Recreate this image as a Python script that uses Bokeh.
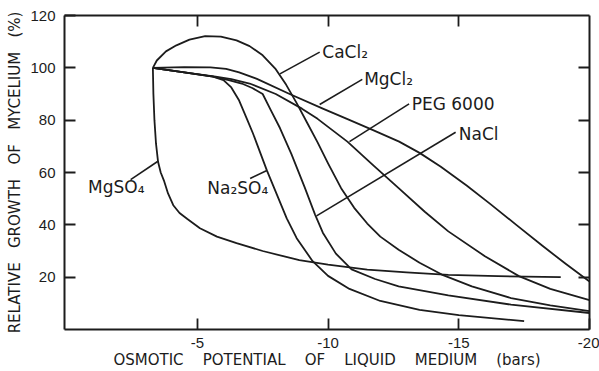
from bokeh.plotting import figure
from bokeh.models import Range1d, FixedTicker, LinearAxis
from bokeh.embed import file_html
from bokeh.resources import INLINE
from bokeh.core.properties import value

# ---- data (x: osmotic potential in bars, y: relative growth %) ----
mgso4_x = [-3.3, -3.32, -3.36, -3.42, -3.5, -3.6, -3.72, -3.88, -4.08, -4.32, -4.62, -5.1, -5.75, -6.5, -7.5, -8.9, -10.0, -11.5, -13.0, -14.6, -16.5, -18.9]
mgso4_y = [100, 90, 80, 71, 64, 60, 57, 52, 47.5, 44.5, 42.2, 38.7, 35.5, 33.0, 30.0, 26.5, 24.8, 22.9, 21.8, 20.9, 20.4, 20.0]

cacl2_x = [-3.3, -3.45, -3.8, -4.2, -4.7, -5.3, -5.9, -6.5, -7.0, -7.5, -8.0, -8.4, -8.8, -9.2, -9.6, -10.0, -10.5, -11.0, -11.5, -12.0, -12.7, -13.5, -14.35, -15.5, -17.0, -18.5, -20.0]
cacl2_y = [100, 102.8, 106.3, 108.6, 110.8, 112.1, 111.9, 110.5, 108.3, 104.8, 99.5, 93.5, 86.5, 79.0, 71.5, 63.5, 54.0, 46.5, 40.5, 35.5, 30.5, 25.5, 21.0, 16.5, 12.0, 9.2, 7.0]

mgcl2_x = [-3.3, -4.5, -5.5, -6.1, -6.6, -7.28, -8.53, -9.8, -10.7, -11.7, -12.72, -13.5, -14.3, -15.3, -16.2, -17.2, -18.2, -19.1, -20.0]
mgcl2_y = [100, 100.3, 100.2, 99.6, 98.3, 95.8, 90.0, 84.4, 80.6, 76.3, 71.8, 67.5, 62.3, 55.0, 48.0, 40.0, 32.0, 25.0, 18.3]

peg_x = [-3.3, -4.5, -5.7, -6.3, -7.0, -8.0, -9.0, -9.6, -10.74, -11.7, -12.7, -13.7, -14.6, -16.0, -17.3, -18.5, -20.0]
peg_y = [100, 98.3, 96.6, 95.7, 94.0, 90.0, 84.4, 80.5, 71.8, 63.0, 54.0, 45.0, 37.5, 28.0, 20.4, 15.5, 11.2]

nacl_x = [-3.3, -4.5, -5.6, -6.2, -6.7, -7.1, -7.5, -7.8, -8.16, -8.6, -9.1, -9.5, -9.8, -10.3, -10.9, -11.8, -12.7, -14.6, -17.0, -20.0]
nacl_y = [100, 98.3, 96.6, 95.3, 94.0, 92.3, 90.0, 84.0, 77.0, 67.0, 54.5, 44.0, 37.0, 29.0, 23.0, 19.3, 16.5, 13.0, 9.5, 6.3]

na2so4_x = [-3.3, -4.5, -5.6, -6.0, -6.3, -6.6, -6.9, -7.13, -7.66, -8.42, -8.8, -9.41, -10.0, -10.82, -12.0, -13.5, -15.0, -17.5]
na2so4_y = [100, 98.3, 96.6, 95.3, 92.5, 87.5, 80.4, 74.9, 60.8, 42.5, 34.9, 26.1, 20.5, 15.5, 10.9, 7.5, 5.5, 3.2]

series_x = [mgso4_x, cacl2_x, mgcl2_x, peg_x, nacl_x, na2so4_x]
series_y = [mgso4_y, cacl2_y, mgcl2_y, peg_y, nacl_y, na2so4_y]

# curve labels
label_text = ["CaCl\u2082", "MgCl\u2082", "PEG 6000", "NaCl", "MgSO\u2084", "Na\u2082SO\u2084"]
# label anchors and leader lines (annotation placement)
label_x = [-9.78, -11.38, -13.2, -15.0, -0.82, -5.38]
label_y = [106.0, 95.6, 86.2, 74.8, 54.5, 53.9]
lead_x0 = [-8.16, -9.68, -10.82, -9.56, -3.48, -7.66]
lead_y0 = [97.7, 86.0, 71.8, 43.4, 64.2, 60.8]
lead_x1 = [-9.68, -11.31, -13.1, -14.88, -2.45, -7.02]
lead_y1 = [106.0, 95.6, 86.2, 75.4, 57.3, 57.7]

x_ticks = [-5, -10, -15, -20]
x_tick_labels = ["-5", "-10", "-15", "-20"]
y_ticks = [20, 40, 60, 80, 100, 120]
top_ticks = [-5, -10, -15]
right_ticks = [20, 40, 60, 80, 100]

NB = "\u00a0"
x_title = (NB * 4).join(["OSMOTIC", "POTENTIAL", "OF", "LIQUID", "MEDIUM", "(bars)"])
y_title = (NB * 3).join(["RELATIVE", "GROWTH", "OF", "MYCELIUM", "(%)"])

INK = "#1c1c1c"
FONT = "DejaVu Sans"
TICK_FONT = "Liberation Sans"

p = figure(width=599, height=371, output_backend="svg", toolbar_location=None,
           x_range=Range1d(0.08, -20), y_range=Range1d(0, 120),
           min_border_left=64, min_border_right=10, min_border_top=15, min_border_bottom=40)
p.grid.visible = False
p.outline_line_color = None
p.background_fill_color = "white"
p.border_fill_color = "white"

for xs, ys in zip(series_x, series_y):
    p.line(xs, ys, line_color=INK, line_width=1.8, line_join="round")

p.segment(x0=lead_x0, y0=lead_y0, x1=lead_x1, y1=lead_y1, line_color=INK, line_width=1.6)
p.text(x=label_x, y=label_y, text=label_text, text_font=value(FONT), text_font_size="17px",
       text_align="left", text_baseline="middle", text_color=INK)

xa = p.xaxis[0]
xa.ticker = FixedTicker(ticks=x_ticks)
xa.major_label_overrides = dict(zip(x_ticks, x_tick_labels))
xa.axis_label = x_title
ya = p.yaxis[0]
ya.ticker = FixedTicker(ticks=y_ticks)
ya.axis_label = y_title
for ax in (xa, ya):
    ax.major_tick_in = 11
    ax.major_tick_out = 0
    ax.minor_tick_line_color = None
    ax.axis_line_width = 2
    ax.axis_line_color = INK
    ax.major_tick_line_color = INK
    ax.major_tick_line_width = 1.8
    ax.major_label_text_font = TICK_FONT
    ax.major_label_text_font_size = "15px"
    ax.major_label_text_color = INK
    ax.axis_label_text_font = FONT
    ax.axis_label_text_font_size = "15px"
    ax.axis_label_text_font_style = "normal"
    ax.axis_label_text_color = INK
xa.major_label_standoff = 8
xa.axis_label_standoff = 0
ya.major_label_standoff = 9
ya.axis_label_standoff = 3

for ticks, side in ((top_ticks, "above"), (right_ticks, "right")):
    ax = LinearAxis(ticker=FixedTicker(ticks=ticks))
    ax.major_tick_in = 11
    ax.major_tick_out = 0
    ax.minor_tick_line_color = None
    ax.axis_line_width = 2
    ax.axis_line_color = INK
    ax.major_tick_line_color = INK
    ax.major_tick_line_width = 1.8
    ax.major_label_text_font_size = "1px"
    ax.major_label_text_color = None
    ax.major_label_standoff = 0
    p.add_layout(ax, side)

open("out.html", "w").write(file_html(p, INLINE))
